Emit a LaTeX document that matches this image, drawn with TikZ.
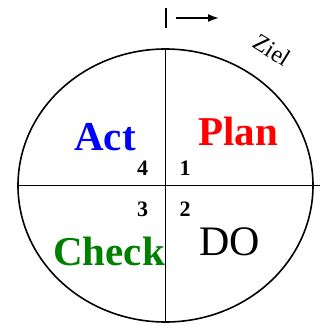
\documentclass[tikz,border=0pt]{standalone}
\usepackage{fontspec}
\setmainfont{Liberation Serif}
\usepackage{xcolor}
\usepackage{tikz}
\usetikzlibrary{shapes.geometric, arrows, arrows.meta, positioning, calc}
\definecolor{checkgreen}{RGB}{0,128,0}
\tikzstyle{phase} = [inner sep=0pt, anchor=base, font=\fontsize{41}{41}\selectfont\bfseries]
\tikzstyle{stepnum} = [inner sep=0pt, anchor=base, font=\fontsize{22}{22}\selectfont\bfseries]
\tikzstyle{axis} = [draw, line width=1.6pt]
\tikzstyle{arrow} = [draw, -{Latex[length=11pt,width=8pt]}, line width=1.6pt]

\begin{document}
\begin{tikzpicture}[x=1pt, y=-1pt, >=latex']
    \useasboundingbox (0,0) rectangle (320,324);
    \node (cycle) [draw, ellipse, line width=1.6pt, inner sep=0pt, outer sep=0pt, minimum width=295pt, minimum height=273pt] at (165.5,185.5) {};
    \coordinate (east) at (320,185.5);
    \draw [axis] (cycle.west) -- (east);
    \draw [axis] (cycle.north) -- (cycle.south);

    % direction marker
    \coordinate (ticktop) at (166,8);
    \coordinate (tickbot) at (166,28);
    \coordinate (arrowfrom) at (176,18);
    \coordinate (arrowto) at (219,18);
    \draw [axis] (ticktop) -- (tickbot);
    \draw [arrow] (arrowfrom) -- (arrowto);
    \node (ziel) [inner sep=0pt, rotate=-32, font=\fontsize{24}{24}\selectfont] at (272,50) {Ziel};

    \node (act) [phase, text=blue] at (105,150) {Act};
    \node (plan) [phase, text=red] at (238,145) {Plan};
    \node (check) [phase, text=checkgreen] at (109,265) {Check};
    \node (do) [phase, font=\fontsize{42}{42}\selectfont] at (230,255) {DO};

    \node (four) [stepnum] at (142.5,175) {4};
    \node (one) [stepnum] at (185,175) {1};
    \node (three) [stepnum] at (142.5,216) {3};
    \node (two) [stepnum] at (185,216) {2};
\end{tikzpicture}
\end{document}
